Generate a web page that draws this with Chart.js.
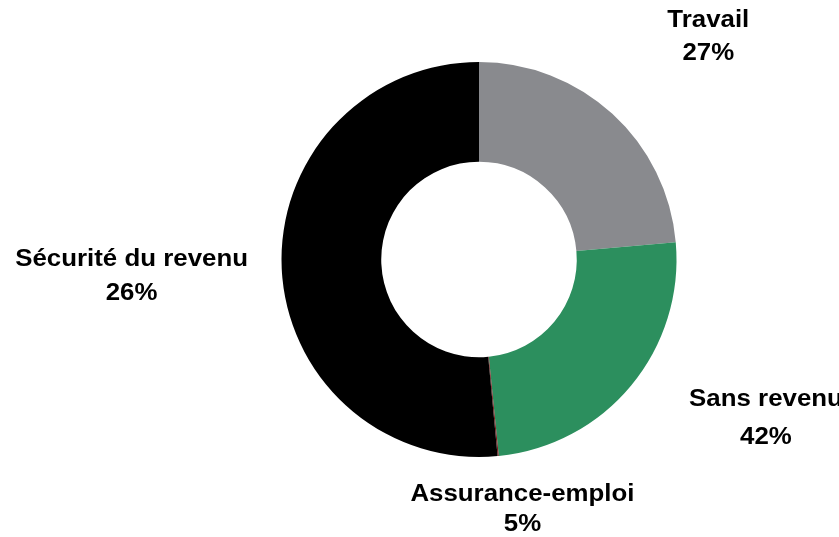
<!DOCTYPE html>
<html>
<head>
<meta charset="utf-8">
<script src="https://cdn.jsdelivr.net/npm/chart.js@4/dist/chart.umd.min.js"></script>
<style>
  html, body { margin: 0; padding: 0; background: #fff; }
  #wrap { width: 839px; height: 537px; position: relative; }
</style>
</head>
<body>
<div id="wrap"><canvas id="donut"></canvas></div>
<script>
// Catégories, dans l'ordre horaire à partir de midi
const categories = ["Travail", "Sans revenu", "Assurance-emploi", "Sécurité du revenu"];
// Parts des secteurs telles que dessinées
const sliceValues = [23.6, 24.8, 0.1, 51.5];
// Pourcentages affichés dans les étiquettes
const labelPercents = [27, 42, 5, 26];
const sliceColors = ['#898a8e', '#2c8f5e', '#7a1d1d', '#000000'];

// Position des étiquettes (milieu des majuscules), en fraction du rayon, depuis le centre
const labelOffsets = [
    { dx: 1.161, dy1: -1.221, dy2: -1.054 },  // Travail
    { dx: 1.453, dy1: 0.701, dy2: 0.893 },    // Sans revenu
    { dx: 0.220, dy1: 1.181, dy2: 1.331 },    // Assurance-emploi
    { dx: -1.759, dy1: -0.011, dy2: 0.163 }   // Sécurité du revenu
];

const FONT_SIZE = 23.5;
const STRETCH = 1.1; // police un peu plus large que Arial

const labelPlugin = {
    id: 'fixedLabels',
    afterDraw(chart) {
        const arc = chart.getDatasetMeta(0).data[0];
        if (!arc) return;
        const { x, y, outerRadius } = arc.getProps(['x', 'y', 'outerRadius'], true);
        const ctx = chart.ctx;
        const half = FONT_SIZE * 0.716 / 2;
        const put = (txt, px, py) => {
            ctx.save();
            ctx.translate(px, py + half);
            ctx.scale(STRETCH, 1);
            ctx.fillText(txt, 0, 0);
            ctx.restore();
        };
        ctx.save();
        ctx.fillStyle = '#000';
        ctx.font = 'bold ' + FONT_SIZE + 'px "Liberation Sans", Arial, sans-serif';
        ctx.textAlign = 'center';
        ctx.textBaseline = 'alphabetic';
        categories.forEach((c, i) => {
            const o = labelOffsets[i];
            const lx = x + o.dx * outerRadius;
            put(c, lx, y + o.dy1 * outerRadius);
            put(labelPercents[i] + '%', lx, y + o.dy2 * outerRadius);
        });
        ctx.restore();
    }
};

new Chart(document.getElementById('donut'), {
    type: 'doughnut',
    data: {
        labels: categories,
        datasets: [{
            data: sliceValues,
            backgroundColor: sliceColors,
            borderWidth: 0
        }]
    },
    options: {
        responsive: true,
        maintainAspectRatio: false,
        animation: false,
        cutout: '49.5%',
        layout: { padding: { left: 281, right: 162, top: 62, bottom: 80 } },
        plugins: {
            legend: { display: false },
            tooltip: { enabled: false }
        }
    },
    plugins: [labelPlugin]
});
</script>
</body>
</html>
